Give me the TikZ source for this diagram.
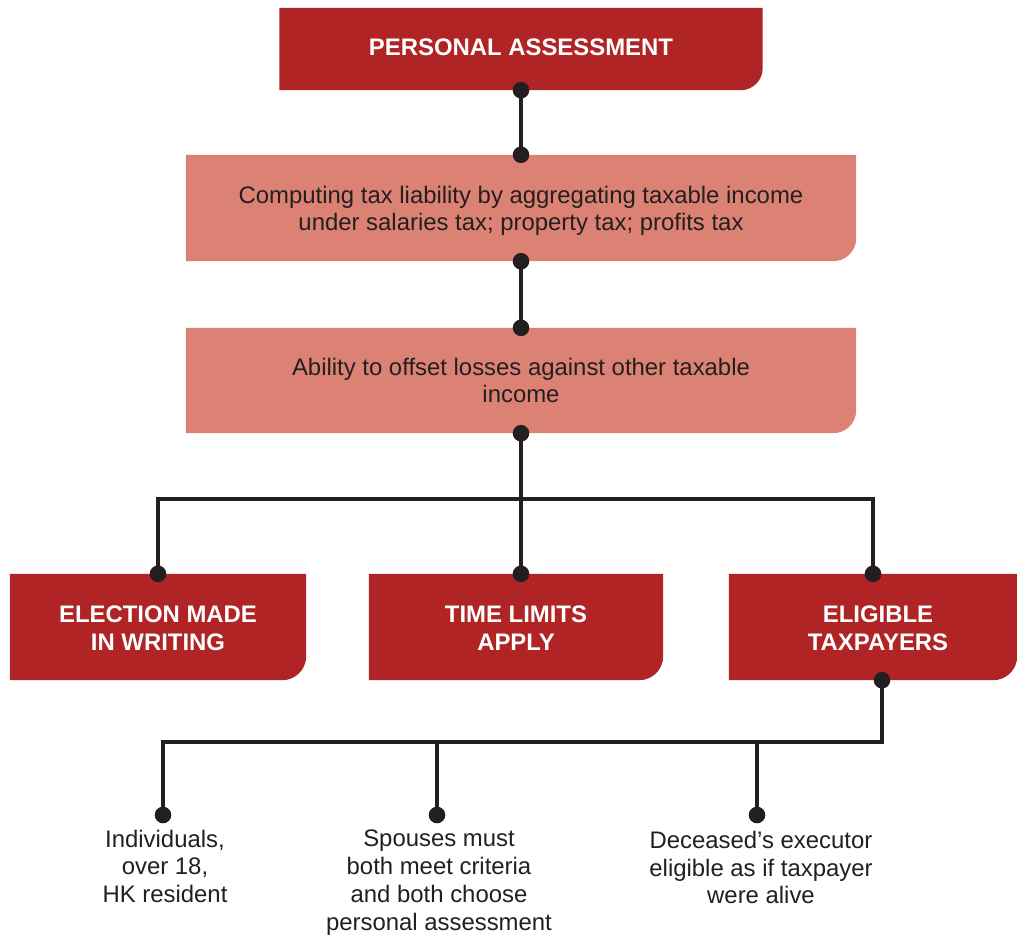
\documentclass[tikz,border=0pt]{standalone}
\usepackage{fontspec}
\setmainfont{Liberation Sans}
\usetikzlibrary{backgrounds}
\definecolor{deepred}{RGB}{176,36,37}
\definecolor{salmon}{RGB}{220,130,116}
\definecolor{ink}{RGB}{35,31,32}

% box with a single rounded corner at the bottom right
\newcommand\tabfill[3]{% #1 node, #2 colour, #3 corner radius
  \fill[#2] (#1.north west) -- (#1.north east)
    -- ([yshift=#3]#1.south east) arc[start angle=0, end angle=-90, radius=#3]
    -- (#1.south west) -- cycle;}

\begin{document}
\begin{tikzpicture}[x=1pt,y=1pt,
  frame/.style={inner sep=0pt},
  headtext/.style={inner sep=0pt, text=white, align=center,
    font=\fontsize{23.9}{28}\selectfont\bfseries},
  bodytext/.style={inner sep=0pt, text=ink, align=center,
    font=\fontsize{23.9}{27.5}\selectfont},
  note/.style={inner sep=0pt, text=ink, align=center, anchor=north,
    font=\fontsize{23.9}{27.7}\selectfont},
  wire/.style={draw=ink, line width=3.5pt},
  dotmark/.style={fill=ink},
  ]
\useasboundingbox (0,0) rectangle (1017,-938);

% box outlines
\node[frame, minimum width=483pt, minimum height=82pt] (pa) at (521,-49) {};
\node[frame, minimum width=670pt, minimum height=106pt] (ct) at (521,-208) {};
\node[frame, minimum width=670pt, minimum height=105pt] (off) at (521,-380.5) {};
\node[frame, minimum width=296pt, minimum height=106pt] (em) at (158,-627) {};
\node[frame, minimum width=294pt, minimum height=106pt] (tl) at (516,-627) {};
\node[frame, minimum width=288pt, minimum height=106pt] (et) at (873,-627) {};

% box captions
\node[headtext] (pa-t) at ([yshift=2pt]pa.center) {PERSONAL ASSESSMENT};
\node[bodytext] (ct-t) at ([yshift=-3pt]ct.center)
  {Computing tax liability by aggregating taxable income\\under salaries tax; property tax; profits tax};
\node[bodytext] (off-t) at (off.center)
  {Ability to offset losses against other taxable\\income};
\node[headtext] (em-t) at ([yshift=-1pt]em.center) {ELECTION MADE\\IN WRITING};
\node[headtext] (tl-t) at ([yshift=-1pt]tl.center) {TIME LIMITS\\APPLY};
\node[headtext] (et-t) at ([xshift=5pt,yshift=-1pt]et.center) {ELIGIBLE\\TAXPAYERS};

% eligibility notes
\node[note] (ind) at (165,-829.5) {Individuals,\\over 18,\\HK resident};
\node[note] (sp) at (439,-830) {Spouses must\\both meet criteria\\and both choose\\personal assessment};
\node[note] (dec) at (761,-831) {Deceased’s executor\\eligible as if taxpayer\\were alive};

% box fills behind the text
\begin{scope}[on background layer]
  \tabfill{pa}{deepred}{22pt}
  \tabfill{ct}{salmon}{23pt}
  \tabfill{off}{salmon}{23pt}
  \tabfill{em}{deepred}{24pt}
  \tabfill{tl}{deepred}{24pt}
  \tabfill{et}{deepred}{24pt}
\end{scope}

% junction points
\coordinate (hub) at (521,-499);
\path (off.south |- tl.north) coordinate (tltap);
\path ([xshift=9pt]et.south) coordinate (ettap);
\coordinate (bus) at (882,-742);
\coordinate (d1) at (163,-815);
\coordinate (d2) at (437,-815);
\coordinate (d3) at (757,-815);

% connectors
\draw[wire] (pa.south) -- (ct.north);
\draw[wire] (ct.south) -- (off.north);
\draw[wire] (off.south) -- (tltap);
\draw[wire] (em.north) |- (hub) -| (et.north);
\draw[wire] (ettap) -- (bus) -- (bus -| d1) -- (d1);
\draw[wire] (bus -| d2) -- (d2);
\draw[wire] (bus -| d3) -- (d3);

% end dots
\foreach \p in {pa.south, ct.north, ct.south, off.north, off.south,
                em.north, tltap, et.north, ettap, d1, d2, d3}
  \fill[dotmark] (\p) circle (8.3pt);
\end{tikzpicture}
\end{document}
